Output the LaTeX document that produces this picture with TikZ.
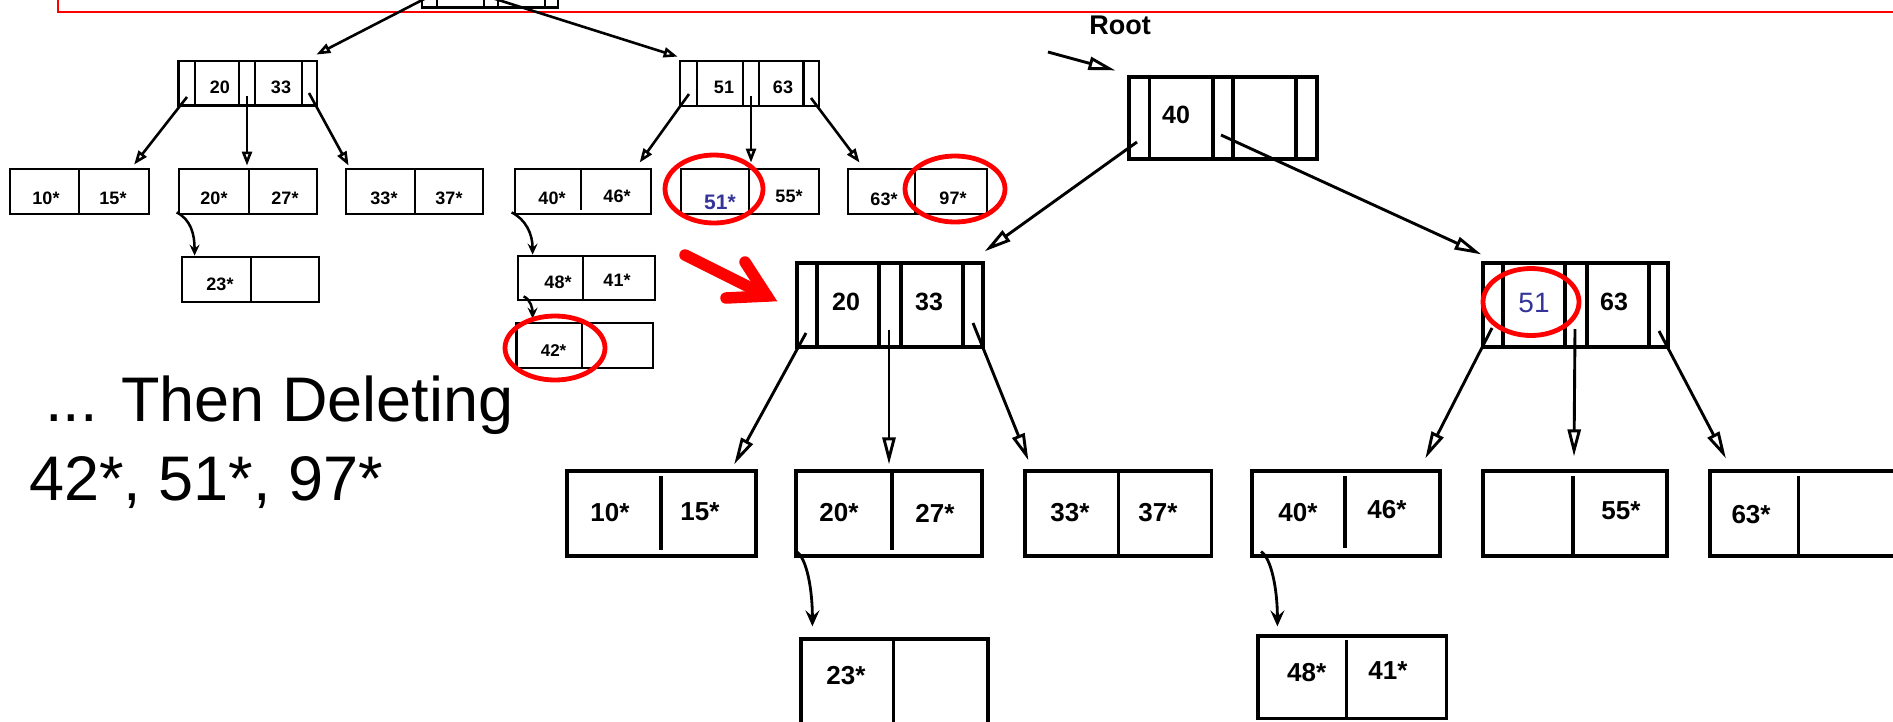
\documentclass[tikz,border=0pt]{standalone}
\usepackage{fontspec}
\setmainfont{Liberation Sans}
\usetikzlibrary{arrows.meta,fit,calc}
\definecolor{kblue}{RGB}{51,51,153}
\begin{document}
\begin{tikzpicture}[x=1pt,y=-1pt,
  obox/.style={draw, line width=2.8pt, inner sep=0pt},
  nbox/.style={draw, line width=3.2pt, inner sep=0pt},
  oline/.style={line width=2.8pt},
  nline/.style={line width=3.2pt},
  otxt/.style={font=\fontsize{18}{18}\selectfont\bfseries, inner sep=0pt},
  ntxt/.style={font=\fontsize{26}{26}\selectfont\bfseries, inner sep=0pt},
  bigtxt/.style={font=\fontsize{63}{63}\selectfont, inner sep=0pt, anchor=base west},
  oarr/.style={line width=2.6pt, -{Triangle[open, length=14pt, width=10pt]}},
  narr/.style={line width=2.9pt, -{Triangle[open, length=27pt, width=13pt]}},
  ocurve/.style={line width=2.5pt, -{Stealth[length=11pt, width=10pt, inset=4pt]}},
  ncurve/.style={line width=2.8pt, -{Stealth[length=16pt, width=14pt, inset=6pt]}},
  hilite/.style={draw=red, line width=4.8pt},
]
\useasboundingbox (0,0) rectangle (1893,721);
\clip (0,0) rectangle (1893,721);

% red frame around the old root
\draw[red, line width=2pt] (58,-30) rectangle (1950,11.7);

% ---------- old tree ----------
\node[obox, fit={(422,-40) (558,7.3)}] (T) {};
\foreach \xx in {437,484,498,545} \draw[oline] (\xx,-40) -- (\xx,7.3);

\node[obox, fit={(178.6,61) (317,105.7)}] (O1) {};
\foreach \xx in {195,239,255,302} \draw[oline] (\xx,61) -- (\xx,105.7);
\node[otxt] (O1a) at (220,87) {20};
\node[otxt] (O1b) at (281,87) {33};

\node[obox, fit={(680,61) (819,106)}] (O2) {};
\foreach \xx in {697,743,759,803.5} \draw[oline] (\xx,61) -- (\xx,106);
\node[otxt] (O2a) at (724,87) {51};
\node[otxt] (O2b) at (783,87) {63};

\node[obox, fit={(10,169) (149,214)}] (A) {};
\draw[oline] (79,169) -- (79,214);
\node[otxt] (A1) at (46,198) {10*};
\node[otxt] (A2) at (113,198) {15*};

\node[obox, fit={(179,169) (317,214)}] (B) {};
\draw[oline] (249,169) -- (249,214);
\node[otxt] (B1) at (214,198) {20*};
\node[otxt] (B2) at (285,198) {27*};

\node[obox, fit={(346,169) (483,214)}] (C) {};
\draw[oline] (415,169) -- (415,214);
\node[otxt] (C1) at (384,198) {33*};
\node[otxt] (C2) at (449,198) {37*};

\node[obox, fit={(515,169) (651,214)}] (D) {};
\draw[oline] (581,169) -- (581,210);
\node[otxt] (D1) at (552,198) {40*};
\node[otxt] (D2) at (617,196) {46*};

\node[obox, fit={(681,169) (819,214)}] (E) {};
\draw[oline] (749,169) -- (749,214);
\node[otxt, font=\fontsize{21}{21}\selectfont\bfseries, text=kblue] (E1) at (720,202) {51*};
\node[otxt] (E2) at (789,196) {55*};

\node[obox, fit={(848,169) (987,214)}] (F) {};
\draw[oline] (915,169) -- (915,214);
\node[otxt] (F1) at (884,199) {63*};
\node[otxt] (F2) at (953,198) {97*};

\node[obox, fit={(182,257) (319,302)}] (G) {};
\draw[oline] (251,257) -- (251,302);
\node[otxt] (G1) at (220,284) {23*};

\node[obox, fit={(518,256) (655,300)}] (H) {};
\draw[oline] (583,256) -- (583,300);
\node[otxt] (H1) at (558,282) {48*};
\node[otxt] (H2) at (617,280) {41*};

\node[obox, fit={(516.5,323) (653,368)}] (I) {};
\draw[oline] (582,323) -- (582,368);
\node[otxt, font=\fontsize{17}{17}\selectfont\bfseries] (I1) at (553.6,351) {42*};

% old connectors
\coordinate (tp1) at (430,-4);
\coordinate (tp2) at (489,-3);
\draw[oarr] (tp1) -- ($(O1.north east)+(-2,-5)$);
\draw[oarr] (tp2) -- ($(O2.north west)+(-1,-3)$);

\coordinate (o1p1) at (187,97);
\coordinate (o1p2) at (247,96);
\coordinate (o1p3) at (309,93);
\draw[oarr] (o1p1) -- ($(A.north west)!0.885!(A.north east)+(0,-3)$);
\draw[oarr] (o1p2) -- ($(B.north)+(-1,-2)$);
\draw[oarr] (o1p3) -- ($(C.north west)+(4,-2)$);

\coordinate (o2p1) at (689,94);
\coordinate (o2p2) at (751,96);
\coordinate (o2p3) at (811,98);
\draw[oarr] (o2p1) -- ($(D.north west)!0.908!(D.north east)+(0,-5)$);
\draw[oarr] (o2p2) -- ($(E.north)+(1,-5)$);
\draw[oarr] (o2p3) -- ($(F.north west)+(13,-5)$);

\draw[ocurve] ($(B.south west)+(-1,-3)$) .. controls +(14,7) and +(0,-22) .. ($(G.north west)+(14,0)$);
\draw[ocurve] ($(D.south west)+(-2,-3)$) .. controls +(14,7) and +(0,-21) .. ($(H.north west)+(16,0)$);
\draw[ocurve] ($(H.south west)+(7,-5)$) .. controls +(7,3) and +(0,-10) .. ($(I.north west)+(17.5,-3)$);

% highlights on old tree
\draw[hilite] (714,189) ellipse [x radius=49, y radius=34];
\draw[hilite] (955,189) ellipse [x radius=50, y radius=33];
\draw[hilite] (555,348) ellipse [x radius=50, y radius=32];

% big red arrow
\draw[red, line width=11.5pt, line cap=round] (685,255) -- (767,296);
\draw[red, line width=11.5pt, line cap=round, line join=miter, miter limit=10] (745,262) -- (767,296) -- (726,298);

% left text
\node[bigtxt] (t1) at (45,421.7) {... Then Deleting};
\node[bigtxt] (t2) at (29,500) {42*, 51*, 97*};

% ---------- new tree ----------
\node[ntxt, font=\fontsize{27}{27}\selectfont\bfseries] (root) at (1120,25) {Root};

\node[nbox, fit={(1129,77) (1317,159)}] (R) {};
\foreach \xx in {1149.5,1213,1233,1296} \draw[nline] (\xx,77) -- (\xx,159);
\node[ntxt, font=\fontsize{25}{25}\selectfont\bfseries] (R1) at (1176,115) {40};

\node[nbox, fit={(797,263) (983,347)}] (N1) {};
\foreach \xx in {817,879,901,963} \draw[nline] (\xx,263) -- (\xx,347);
\node[ntxt, font=\fontsize{25}{25}\selectfont\bfseries] (N1a) at (846,302) {20};
\node[ntxt, font=\fontsize{25}{25}\selectfont\bfseries] (N1b) at (929,302) {33};

\node[nbox, fit={(1483,263) (1668,347)}] (N2) {};
\foreach \xx in {1503,1565,1587,1649} \draw[nline] (\xx,263) -- (\xx,347);
\node[inner sep=0pt, font=\fontsize{28}{28}\selectfont, text=kblue] (N2a) at (1534,303) {51};
\node[ntxt, font=\fontsize{25}{25}\selectfont\bfseries] (N2b) at (1614,302) {63};

\node[nbox, fit={(567,471) (756,556)}] (P) {};
\draw[nline] (661,476) -- (661,550);
\node[ntxt] (P1) at (610,513) {10*};
\node[ntxt] (P2) at (700,512) {15*};

\node[nbox, fit={(796,471) (982,556)}] (Q) {};
\draw[nline] (892,471) -- (892,550);
\node[ntxt] (Q1) at (839,513) {20*};
\node[ntxt] (Q2) at (935,513) {27*};

\node[nbox, fit={(1025,471) (1211.5,556)}] (S) {};
\draw[nline] (1118.5,471) -- (1118.5,556);
\node[ntxt] (S1) at (1070,513) {33*};
\node[ntxt] (S2) at (1158,513) {37*};

\node[nbox, fit={(1252,471) (1440,556)}] (U) {};
\draw[nline] (1345,476) -- (1345,548);
\node[ntxt] (U1) at (1298,513) {40*};
\node[ntxt] (U2) at (1387,510) {46*};

\node[nbox, fit={(1483,471) (1667,556)}] (V) {};
\draw[nline] (1573,476) -- (1573,556);
\node[ntxt] (V2) at (1621,511) {55*};

\node[nbox, fit={(1710,471) (1900,556)}] (W) {};
\draw[nline] (1798.5,476) -- (1798.5,556);
\node[ntxt] (W1) at (1751,515) {63*};

\node[nbox, fit={(801,639) (988,730)}] (X) {};
\draw[nline] (893.5,639) -- (893.5,730);
\node[ntxt] (X1) at (846,676) {23*};

\node[nbox, fit={(1258,636) (1446.7,718.3)}] (Y) {};
\draw[nline] (1346.7,640) -- (1346.7,718.3);
\node[ntxt] (Y1) at (1306.7,672.6) {48*};
\node[ntxt] (Y2) at (1388,670.7) {41*};

% new connectors
\coordinate (rootp) at (1048,52);
\draw[narr] (rootp) -- ($(R.north west)+(-12,-5)$);

\coordinate (rp1) at (1137,142);
\coordinate (rp2) at (1221,135);
\draw[narr] (rp1) -- ($(N1.north east)+(0,-10)$);
\draw[narr] (rp2) -- ($(N2.north west)+(0,-7)$);

\coordinate (n1p1) at (806,333);
\coordinate (n1p2) at (889,330);
\coordinate (n1p3) at (973,323);
\draw[narr] (n1p1) -- ($(P.north west)!0.878!(P.north east)+(0,-5)$);
\draw[narr] (n1p2) -- ($(Q.north)+(0,-5)$);
\draw[narr] (n1p3) -- ($(S.north west)+(5,-9)$);

\coordinate (n2p1) at (1492,328);
\coordinate (n2p2) at (1575,329);
\coordinate (n2p3) at (1659,331);
\draw[narr] (n2p1) -- ($(U.north west)!0.915!(U.north east)+(0,-11)$);
\draw[narr] (n2p2) -- ($(V.north)+(-1,-13)$);
\draw[narr] (n2p3) -- ($(W.north west)+(17.5,-11)$);

\draw[ncurve] ($(Q.south west)+(2,-6)$) .. controls +(10,6) and +(0,-38) .. ($(X.north west)+(13,-11)$);
\draw[ncurve] ($(U.south west)+(10.6,-6)$) .. controls +(10,6) and +(0,-38) .. ($(Y.north west)+(21,-8)$);

% highlight on new tree
\draw[hilite] (1531,302) ellipse [x radius=48, y radius=33.5];
\end{tikzpicture}
\end{document}
